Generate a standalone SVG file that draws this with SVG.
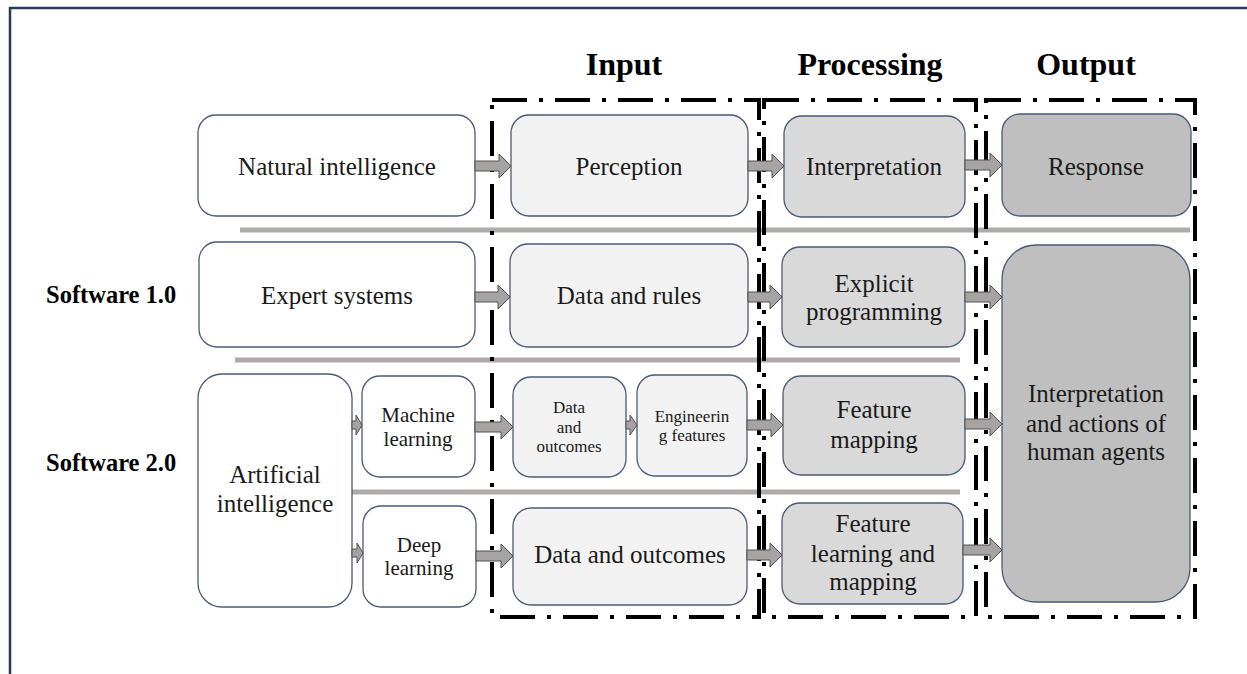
<svg xmlns="http://www.w3.org/2000/svg" width="1247" height="674" viewBox="0 0 1247 674">
<defs>
<style>
.n rect{stroke:#4a5a78;stroke-width:1.3}
.w{fill:#ffffff}.l{fill:#f2f2f2}.m{fill:#d9d9d9}.d{fill:#bfbfbf}
text{font-family:"Liberation Serif","Times New Roman",serif;fill:#1a1a1a;text-anchor:middle}
.t24{font-size:25px}.t20{font-size:21px}.t17{font-size:17px}
.h{font-size:32px;font-weight:bold;fill:#000}
.s{font-size:24.5px;font-weight:bold;fill:#000;text-anchor:start}
.sep{stroke:#aeaaaa;stroke-width:5}
.box{fill:none;stroke:#000;stroke-width:4;stroke-dasharray:35 12 4 12}
.ar{fill:#a6a3a3;stroke:#505050;stroke-width:1}
</style>
</defs>
<rect width="1247" height="674" fill="#fff"/>
<g id="frame">
<line x1="10" y1="8" x2="1247" y2="8" stroke="#243a5e" stroke-width="2.5"/>
<line x1="10" y1="7" x2="10" y2="674" stroke="#243a5e" stroke-width="2.5"/>
</g>
<g id="headers">
<text class="h" x="624" y="75">Input</text>
<text class="h" x="870" y="75">Processing</text>
<text class="h" x="1086" y="75">Output</text>
<text class="s" x="46" y="303">Software 1.0</text>
<text class="s" x="46" y="471">Software 2.0</text>
</g>
<g id="separators">
<line class="sep" x1="240" y1="230" x2="1190" y2="230"/>
<line class="sep" x1="235" y1="360" x2="960" y2="360"/>
<line class="sep" x1="352" y1="492" x2="960" y2="492"/>
</g>
<g id="stage-boxes">
<rect class="box" x="492" y="100" width="267" height="517"/>
<rect class="box" x="764" y="100" width="212" height="517"/>
<rect class="box" x="986" y="100" width="209" height="517"/>
</g>
<g id="natural-intelligence" class="n"><rect class="w" x="198" y="115" width="277" height="101" rx="18"/><text class="t24" x="337" y="175">Natural intelligence</text></g>
<g id="perception" class="n"><rect class="l" x="511" y="115" width="237" height="101" rx="18"/><text class="t24" x="629" y="175">Perception</text></g>
<g id="interpretation" class="n"><rect class="m" x="784" y="116" width="181" height="101" rx="18"/><text class="t24" x="874" y="175">Interpretation</text></g>
<g id="response" class="n"><rect class="d" x="1002" y="114" width="189" height="102" rx="18"/><text class="t24" x="1096" y="175">Response</text></g>
<g id="expert-systems" class="n"><rect class="w" x="199" y="242" width="276" height="105" rx="18"/><text class="t24" x="337" y="304">Expert systems</text></g>
<g id="data-and-rules" class="n"><rect class="l" x="510" y="244" width="238" height="103" rx="18"/><text class="t24" x="629" y="304">Data and rules</text></g>
<g id="explicit-programming" class="n"><rect class="m" x="782" y="247" width="183" height="100" rx="18"/><text class="t24" x="874" y="292">Explicit</text><text class="t24" x="874" y="320">programming</text></g>
<g id="human-agents" class="n"><rect class="d" x="1002" y="245" width="188" height="357" rx="34"/><text class="t24" x="1096" y="402">Interpretation</text><text class="t24" x="1096" y="432">and actions of</text><text class="t24" x="1096" y="460">human agents</text></g>
<g id="artificial-intelligence" class="n"><rect class="w" x="198" y="374" width="154" height="233" rx="24"/><text class="t24" x="275" y="483">Artificial</text><text class="t24" x="275" y="512">intelligence</text></g>
<g id="machine-learning" class="n"><rect class="w" x="362" y="376" width="113" height="101" rx="18"/><text class="t20" x="418" y="422">Machine</text><text class="t20" x="418" y="446">learning</text></g>
<g id="deep-learning" class="n"><rect class="w" x="363" y="506" width="113" height="101" rx="18"/><text class="t20" x="419" y="552">Deep</text><text class="t20" x="419" y="575">learning</text></g>
<g id="data-and-outcomes-ml" class="n"><rect class="l" x="513" y="377" width="113" height="100" rx="18"/><text class="t17" x="569" y="413">Data</text><text class="t17" x="569" y="433">and</text><text class="t17" x="569" y="452">outcomes</text></g>
<g id="engineering-features" class="n"><rect class="l" x="637" y="375" width="110" height="101" rx="18"/><text class="t17" x="692" y="422">Engineerin</text><text class="t17" x="692" y="441">g features</text></g>
<g id="feature-mapping" class="n"><rect class="m" x="783" y="376" width="182" height="99" rx="18"/><text class="t24" x="874" y="418">Feature</text><text class="t24" x="874" y="448">mapping</text></g>
<g id="data-and-outcomes-dl" class="n"><rect class="l" x="513" y="508" width="234" height="97" rx="18"/><text class="t24" x="630" y="563">Data and outcomes</text></g>
<g id="feature-learning" class="n"><rect class="m" x="782" y="503" width="181" height="101" rx="18"/><text class="t24" x="873" y="532">Feature</text><text class="t24" x="873" y="562">learning and</text><text class="t24" x="873" y="590">mapping</text></g>
<g id="connectors">
<path class="ar" d="M475,161h24v-7l12,12l-12,12v-7h-24z"/>
<path class="ar" d="M748,161h24v-7l12,12l-12,12v-7h-24z"/>
<path class="ar" d="M965,160h25v-7l12,12l-12,12v-7h-25z"/>
<path class="ar" d="M475,292h23v-7l12,12l-12,12v-7h-23z"/>
<path class="ar" d="M748,292h22v-7l12,12l-12,12v-7h-22z"/>
<path class="ar" d="M965,292h25v-7l12,12l-12,12v-7h-25z"/>
<path class="ar" d="M352,421h4v-6l6,10l-6,10v-6h-4z"/>
<path class="ar" d="M475,422h26v-7l12,12l-12,12v-7h-26z"/>
<path class="ar" d="M626,421h4v-6l7,10l-7,10v-6h-4z"/>
<path class="ar" d="M747,420h24v-7l12,12l-12,12v-7h-24z"/>
<path class="ar" d="M965,419h25v-7l12,12l-12,12v-7h-25z"/>
<path class="ar" d="M352,549h5v-6l6,10l-6,10v-6h-5z"/>
<path class="ar" d="M476,551h25v-7l12,12l-12,12v-7h-25z"/>
<path class="ar" d="M747,550h23v-7l12,12l-12,12v-7h-23z"/>
<path class="ar" d="M963,545h27v-7l12,12l-12,12v-7h-27z"/>
</g>
</svg>
